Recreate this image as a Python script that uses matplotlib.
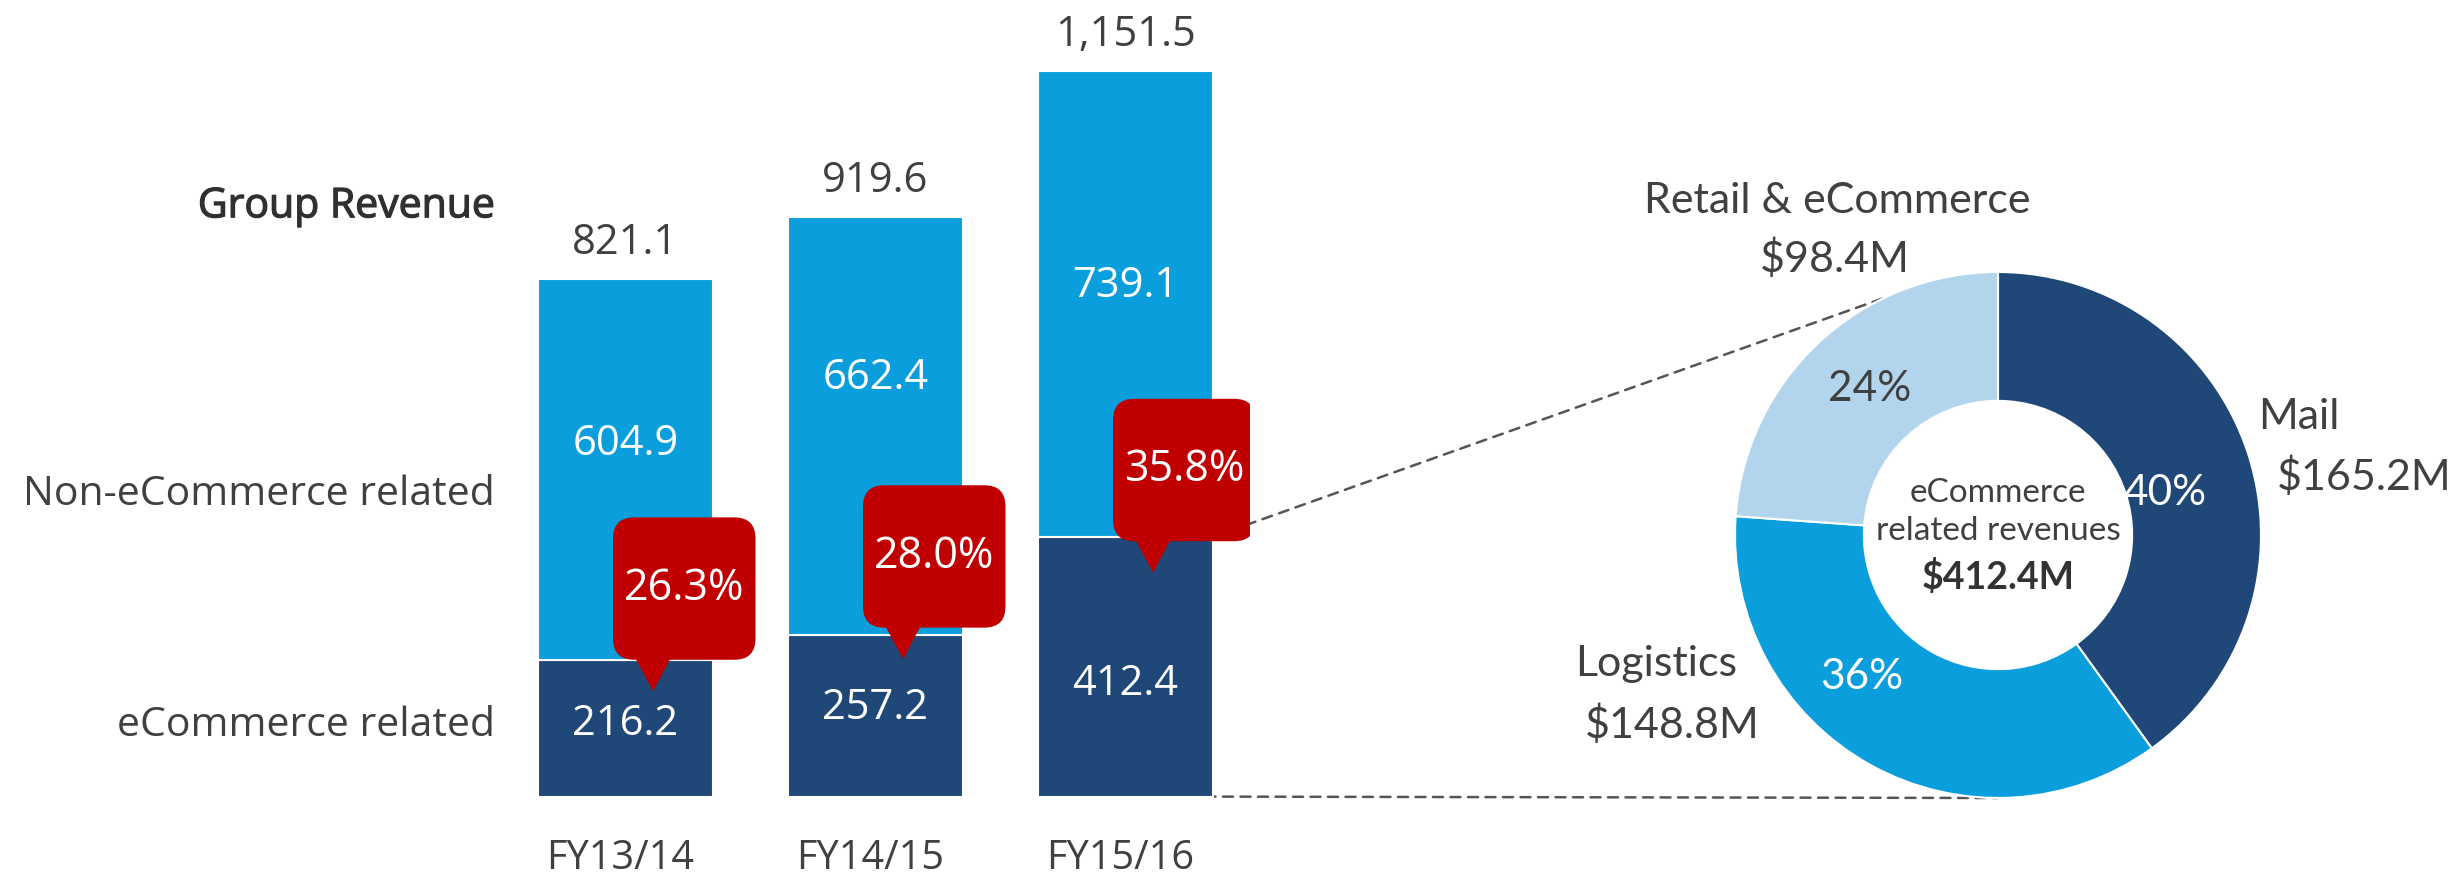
import matplotlib
matplotlib.use('Agg')
import matplotlib.pyplot as plt
import matplotlib.patheffects as pe
from matplotlib.patches import FancyBboxPatch, Polygon, ConnectionPatch

# ---------------- data ----------------
years = ['FY13/14', 'FY14/15', 'FY15/16']
ecom = [216.2, 257.2, 412.4]
non_ecom = [604.9, 662.4, 739.1]
row_labels = ['Group Revenue', 'Non-eCommerce related', 'eCommerce related']
seg_names = ['Mail', 'Logistics', 'Retail & eCommerce']
seg_values = [165.2, 148.8, 98.4]
center_lines = ['eCommerce', 'related revenues']

# ---------------- style ----------------
C_DARK = '#1F4879'
C_MID = '#0A9FDC'
C_LIGHT = '#B2D5ED'
C_RED = '#C00000'
C_TXT = '#404040'
FONT_A = ['Open Sans', 'DejaVu Sans']
FONT_B = ['Lato', 'DejaVu Sans']

W, H = 2459, 886
fig = plt.figure(figsize=(W / 100, H / 100), dpi=100)

# bar axes mapped to pixels
x0px, px_per_x = 625.5, 250.0
y0px, px_per_y = 796.6, 0.63
ax = fig.add_axes([500 / W, 0, 750 / W, 1])
ax.set_xlim((500 - x0px) / px_per_x, (1250 - x0px) / px_per_x)
ax.set_ylim((y0px - H) / px_per_y, y0px / px_per_y)
ax.axis('off')

xs = list(range(len(years)))
bw = 0.70
totals = [a + b for a, b in zip(ecom, non_ecom)]
ax.bar(xs, ecom, width=bw, color=C_DARK, edgecolor='white', linewidth=1.5, zorder=2)
ax.bar(xs, non_ecom, bottom=ecom, width=bw, color=C_MID, edgecolor='white', linewidth=1.5, zorder=2)

top_lbl_y = [559, 665, 811]
bot_lbl_y = [115, 141, 179]
for i, x in enumerate(xs):
    ax.text(x, totals[i] + 58, f'{totals[i]:,.1f}', ha='center', va='center',
            fontsize=30, color=C_TXT, family=FONT_A)
    ax.text(x, top_lbl_y[i], f'{non_ecom[i]:.1f}', ha='center', va='center',
            fontsize=30, color='white', family=FONT_A, zorder=3)
    ax.text(x, bot_lbl_y[i], f'{ecom[i]:.1f}', ha='center', va='center',
            fontsize=30, color='white', family=FONT_A, zorder=3)
    ax.text(x - 0.02, -99, years[i], ha='center', va='center',
            fontsize=28.5, color=C_TXT, family=FONT_A)

# callouts
asp = px_per_x / px_per_y
call_off = [1, 11, -7]
cw, ch = 0.57, 226
for i, x in enumerate(xs):
    b = ecom[i] + call_off[i]
    left = x - 0.05
    box = FancyBboxPatch((left, b), cw, ch,
                         boxstyle='round,pad=0,rounding_size=0.085',
                         mutation_aspect=asp, facecolor=C_RED,
                         edgecolor='none', zorder=5)
    ax.add_patch(box)
    tip = x + 0.11
    tri = Polygon([(tip - 0.07, b + 2), (tip + 0.07, b + 2), (tip, b - 50)],
                  closed=True, facecolor=C_RED, edgecolor='none', zorder=5)
    ax.add_patch(tri)
    pct = ecom[i] / totals[i] * 100
    ax.text(left + cw / 2, b + ch / 2, f'{pct:.1f}%', ha='center', va='center',
            fontsize=31, color='white', family=FONT_A, zorder=6)

# row labels (figure coords)
row_y = [207, 495, 726]
for lbl, yy in zip(row_labels, row_y):
    if lbl == 'Group Revenue':
        fig.text(495 / W, 1 - yy / H, lbl, ha='right', va='center',
                 fontsize=29.5, color='#303030', family=FONT_A,
                 path_effects=[pe.withStroke(linewidth=0.9, foreground='#303030')])
    else:
        fig.text(495 / W, 1 - yy / H, lbl, ha='right', va='center',
                 fontsize=29.5, color=C_TXT, family=FONT_A)

# ---------------- donut ----------------
cx, cy, R = 1998, 535, 263
half = 330
ax2 = fig.add_axes([(cx - half) / W, (H - cy - half) / H, 2 * half / W, 2 * half / H])
lim = half / R
ax2.pie(seg_values, radius=1, startangle=90, counterclock=False,
        colors=[C_DARK, C_MID, C_LIGHT],
        wedgeprops=dict(width=0.49, edgecolor='white', linewidth=1.5))
ax2.set_xlim(-lim, lim)
ax2.set_ylim(-lim, lim)
ax2.axis('off')

tot = sum(seg_values)
pct_pos = [(0.635, 0.16), (-0.52, -0.54), (-0.49, 0.555)]
pct_col = ['white', 'white', C_TXT]
for v, p, c in zip(seg_values, pct_pos, pct_col):
    ax2.text(p[0], p[1], f'{v / tot * 100:.0f}%', ha='center', va='center',
             fontsize=30.5, color=c, family=FONT_B)

name_pos = [(0.99, 0.45, 'left'), (-1.30, -0.49, 'center'), (-0.61, 1.27, 'center')]
val_pos = [(1.06, 0.22, 'left'), (-1.24, -0.72, 'center'), (-0.62, 1.05, 'center')]
for n, v, npos, vpos in zip(seg_names, seg_values, name_pos, val_pos):
    ax2.text(npos[0], npos[1], n, ha=npos[2], va='center', fontsize=31,
             color=C_TXT, family=FONT_B, clip_on=False)
    ax2.text(vpos[0], vpos[1], f'${v:.1f}M', ha=vpos[2], va='center', fontsize=31,
             color=C_TXT, family=FONT_B, clip_on=False)

ax2.text(0, 0.16, center_lines[0], ha='center', va='center', fontsize=24,
         color=C_TXT, family=FONT_B)
ax2.text(0, 0.017, center_lines[1], ha='center', va='center', fontsize=24,
         color=C_TXT, family=FONT_B)
ax2.text(0, -0.16, f'${tot:.1f}M', ha='center', va='center', fontsize=27,
         color='#333333', family=FONT_B, weight='bold')

# connector lines
for xa, xb in [((xs[-1] + bw / 2, ecom[-1]), (-0.274, 0.958)),
               ((xs[-1] + bw / 2 - 0.03, 0), (0.0, -1.0))]:
    con = ConnectionPatch(xyA=xa, coordsA=ax.transData, xyB=xb, coordsB=ax2.transData,
                          color='#555555', linewidth=1.8, linestyle=(0, (4, 3)),
                          zorder=-1)
    fig.add_artist(con)

fig.savefig('out.png', dpi=100, facecolor='white')
